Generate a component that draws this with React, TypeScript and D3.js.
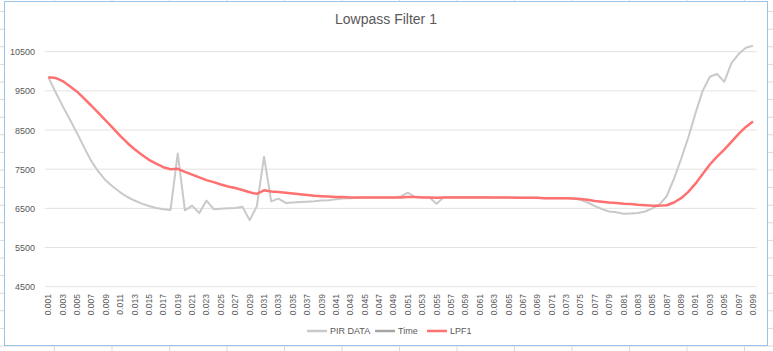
import * as d3 from "d3";
import React from "react";

// x categories: 0.001 .. 0.099
const times: string[] = d3.range(1, 100).map(i => (i / 1000).toFixed(3));

const pirData: number[] = [
  9850, 9470, 9110, 8770, 8420, 8050, 7700, 7430, 7210, 7050,
  6910, 6790, 6700, 6620, 6560, 6510, 6480, 6460, 7900, 6450,
  6570, 6380, 6700, 6480, 6490, 6500, 6510, 6540, 6200, 6550,
  7820, 6680, 6750, 6640, 6650, 6660, 6670, 6680, 6700, 6710,
  6730, 6750, 6760, 6770, 6780, 6780, 6780, 6780, 6780, 6800,
  6900, 6790, 6790, 6780, 6620, 6790, 6790, 6790, 6790, 6790,
  6790, 6790, 6780, 6780, 6780, 6780, 6770, 6770, 6770, 6760,
  6760, 6760, 6760, 6750, 6720, 6650, 6560, 6480, 6420, 6400,
  6360, 6370, 6380, 6420, 6500, 6600, 6810, 7250, 7760, 8310,
  8930, 9500, 9860, 9930, 9730, 10210, 10440, 10600, 10650,
];

const lpf1: number[] = [
  9850, 9830, 9750, 9620, 9480, 9300, 9120, 8930, 8740, 8550,
  8350, 8170, 8010, 7870, 7740, 7640, 7550, 7500, 7510, 7430,
  7360, 7290, 7220, 7170, 7110, 7060, 7020, 6970, 6910, 6870,
  6960, 6930, 6920, 6900, 6880, 6860, 6840, 6820, 6810, 6800,
  6790, 6790, 6780, 6780, 6780, 6780, 6780, 6780, 6780, 6780,
  6790, 6790, 6780, 6780, 6770, 6780, 6780, 6780, 6780, 6780,
  6780, 6780, 6780, 6780, 6780, 6770, 6770, 6770, 6770, 6760,
  6760, 6760, 6760, 6750, 6740, 6720, 6690, 6670, 6650, 6640,
  6620, 6610, 6590, 6580, 6570, 6570, 6580, 6650, 6760, 6920,
  7130, 7380, 7620, 7820, 8000, 8200, 8400, 8580, 8720,
];

const yTicks: number[] = [4500, 5500, 6500, 7500, 8500, 9500, 10500];

const legendItems = [
  { name: "PIR DATA", color: "#c9c9c9" },
  { name: "Time", color: "#a5a5a5" },
  { name: "LPF1", color: "#ff7171" },
];

const W = 773;
const H = 351;
const font = "'Liberation Sans', Arial, sans-serif";

const App: React.FC = () => {
  const x = d3.scalePoint<string>().domain(times).range([44.7, 756.6]).padding(0.5);
  const y = d3.scaleLinear().domain([4500, 10500]).range([286.7, 51.7]);

  const line = d3.line<number>()
    .x((_, i) => x(times[i]) as number)
    .y(d => y(d));

  // spreadsheet grid around the chart object
  const rows = d3.range(-6, H, 17.6);
  const cols = d3.range(-3, W, 57.5);

  return (
    <svg width={W} height={H} style={{ position: "absolute", left: 0, top: 0, background: "#fff" }}>
      {rows.map((r, i) => <line key={"r" + i} x1={0} x2={W} y1={r} y2={r} stroke="#dadada" strokeWidth={1} />)}
      {cols.map((c, i) => <line key={"c" + i} x1={c} x2={c} y1={0} y2={H} stroke="#dadada" strokeWidth={1} />)}
      <rect x={4.5} y={1.5} width={763} height={344} fill="#fff" stroke="#9dc3e6" strokeWidth={1} />

      <text x={386} y={24} textAnchor="middle" fontFamily={font} fontSize={14} fill="#595959">Lowpass Filter 1</text>

      {yTicks.map(t => (
        <g key={t}>
          <line x1={44.7} x2={756.6} y1={y(t)} y2={y(t)} stroke="#e3e3e3" strokeWidth={1} />
          <text x={35} y={y(t) + 3.5} textAnchor="end" fontFamily={font} fontSize={9} fill="#595959">{t}</text>
        </g>
      ))}

      {times.map((t, i) => i % 2 === 0 ? (
        <text key={t} transform={`translate(${(x(t) as number) + 3},294) rotate(-90)`}
          textAnchor="end" fontFamily={font} fontSize={8.5} fill="#595959">{t}</text>
      ) : null)}

      <path d={line(pirData) ?? ""} fill="none" stroke="#c9c9c9" strokeWidth={2} strokeLinejoin="round" />
      <path d={line(lpf1) ?? ""} fill="none" stroke="#ff7171" strokeWidth={2.5} strokeLinejoin="round" />

      {legendItems.map((d, i) => {
        const lx = [307, 375, 427][i];
        return (
          <g key={d.name}>
            <line x1={lx} x2={lx + 20} y1={331} y2={331} stroke={d.color} strokeWidth={2.5} />
            <text x={lx + 23} y={334} fontFamily={font} fontSize={9} fill="#595959">{d.name}</text>
          </g>
        );
      })}
    </svg>
  );
};

export default App;
